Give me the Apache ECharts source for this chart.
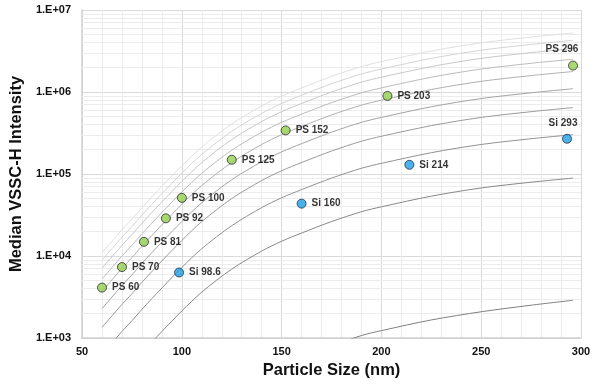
<!DOCTYPE html>
<html>
<head>
<meta charset="utf-8">
<script src="https://cdn.jsdelivr.net/npm/echarts@6/dist/echarts.min.js"></script>
<style>
html,body{margin:0;padding:0;background:#fff;}
#chart{width:600px;height:390px;}
</style>
</head>
<body>
<div id="chart"></div>
<script>
// ---- data ----
const xTicks = [50, 100, 150, 200, 250, 300];
const yTickLabels = ['1.E+03', '1.E+04', '1.E+05', '1.E+06', '1.E+07'];
const minorMultipliers = [2, 3, 4, 5, 6, 7, 8, 9];

const curveX = [60, 65, 70, 75, 80, 90, 100, 110, 125, 140, 150, 160, 175, 190, 200, 225, 250, 275, 296];
const curve1 = [10960, 15140, 20890, 28180, 38900, 70790, 125900, 213800, 407400, 676100, 891300, 1122000, 1549000, 2042000, 2344000, 3162000, 3981000, 4677000, 5248000];
const curve2 = [8913, 12300, 16980, 22910, 31620, 57540, 102300, 173800, 331100, 549500, 724400, 912000, 1259000, 1660000, 1905000, 2570000, 3236000, 3802000, 4266000];
const curve3 = [7079, 9772, 13490, 18200, 25120, 45710, 81280, 138000, 263000, 436500, 575400, 724400, 1000000, 1318000, 1514000, 2042000, 2570000, 3020000, 3388000];
const curve4 = [5248, 7244, 10000, 13490, 18620, 33880, 60260, 102300, 195000, 323600, 426600, 537000, 741300, 977200, 1122000, 1514000, 1905000, 2239000, 2512000];
const curve5 = [3715, 5129, 7079, 9550, 13180, 23990, 42660, 72440, 138000, 229100, 302000, 380200, 524800, 691800, 794300, 1072000, 1349000, 1585000, 1778000];
const curve6 = [2291, 3162, 4365, 5888, 8128, 14790, 26300, 44670, 85110, 141300, 186200, 234400, 323600, 426600, 489800, 660700, 831800, 977200, 1096000];
const curve7 = [1349, 1862, 2570, 3467, 4786, 8710, 15490, 26300, 50120, 83180, 109600, 138000, 190500, 251200, 288400, 389000, 489800, 575400, 645700];
const curve8 = [631, 871, 1202, 1622, 2239, 4074, 7244, 12300, 23440, 38900, 51290, 64570, 89130, 117500, 134900, 182000, 229100, 269200, 302000];
const curve9 = [186, 257, 355, 479, 661, 1202, 2138, 3631, 6918, 11480, 15140, 19050, 26300, 34670, 39810, 53700, 67610, 79430, 89130];
const curve10X = [160, 175, 190, 200, 225, 250, 275, 296];
const curve10 = [562, 794, 1072, 1230, 1660, 2089, 2512, 2884];

const psSize = [60, 70, 81, 92, 100, 125, 152, 203, 296];
const psMedian = [4120, 7330, 14900, 28800, 51200, 149000, 340000, 895000, 2100000];
const psLabels = ['PS 60', 'PS 70', 'PS 81', 'PS 92', 'PS 100', 'PS 125', 'PS 152', 'PS 203', 'PS 296'];

const siSize = [98.6, 160, 214, 293];
const siMedian = [6290, 43500, 129500, 269000];
const siLabels = ['Si 98.6', 'Si 160', 'Si 214', 'Si 293'];

// ---- build ----
const FONT = '"Liberation Sans", Arial, sans-serif';
const curves = [curve1, curve2, curve3, curve4, curve5, curve6, curve7, curve8, curve9];
const curveColors = ['#e0e0e0', '#d4d4d4', '#c8c8c8', '#bcbcbc', '#b0b0b0', '#a4a4a4', '#9a9a9a', '#909090', '#888888', '#808080'];

const series = [];

// minor horizontal log gridlines
const minorY = [];
for (let d = 0; d < yTickLabels.length - 1; d++) {
  const base = Math.pow(10, d + 3);
  minorMultipliers.forEach(m => minorY.push({ yAxis: m * base }));
}
series.push({
  type: 'line', data: [], z: 1, silent: true,
  markLine: {
    z: 1, silent: true, symbol: ['none', 'none'], label: { show: false },
    lineStyle: { color: '#ececec', width: 1, type: 'solid' },
    data: minorY, animation: false
  }
});

curves.forEach((c, i) => {
  series.push({
    type: 'line', z: 3, smooth: 0.3, showSymbol: false, symbol: 'none', silent: true,
    lineStyle: { color: curveColors[i], width: 1 },
    data: curveX.map((x, j) => [x, c[j]])
  });
});
series.push({
  type: 'line', z: 3, smooth: 0.3, showSymbol: false, symbol: 'none', silent: true,
  lineStyle: { color: curveColors[9], width: 1 },
  data: curve10X.map((x, j) => [x, curve10[j]])
});

const labelStyle = { show: true, position: 'right', distance: 5, fontFamily: FONT, fontWeight: 'bold', fontSize: 10, color: '#000' };

series.push({
  type: 'scatter', z: 5, symbol: 'circle', symbolSize: 9,
  itemStyle: { color: '#92D050', borderColor: '#2b2b2b', borderWidth: 1 },
  label: Object.assign({}, labelStyle, { formatter: p => psLabels[p.dataIndex] }),
  data: psSize.map((x, i) => {
    const o = { value: [x, psMedian[i]] };
    if (i === psSize.length - 1) o.label = { position: 'top', offset: [-11, -1] };
    return o;
  })
});
series.push({
  type: 'scatter', z: 5, symbol: 'circle', symbolSize: 9,
  itemStyle: { color: '#1E9FE3', borderColor: '#1f3550', borderWidth: 1 },
  label: Object.assign({}, labelStyle, { formatter: p => siLabels[p.dataIndex] }),
  data: siSize.map((x, i) => {
    const o = { value: [x, siMedian[i]] };
    if (i === siSize.length - 1) o.label = { position: 'top', offset: [-4, -1] };
    return o;
  })
});

const chart = echarts.init(document.getElementById('chart'), null, { renderer: 'canvas' });
chart.setOption({
  animation: false,
  backgroundColor: '#ffffff',
  grid: { left: 80, right: 19, top: 10, bottom: 52 },
  xAxis: {
    type: 'value', min: xTicks[0], max: xTicks[xTicks.length - 1], interval: 50,
    name: 'Particle Size (nm)', nameLocation: 'middle', nameGap: 24,
    nameTextStyle: { fontFamily: FONT, fontWeight: 'bold', fontSize: 16.5, color: '#111' },
    axisLine: { show: true, onZero: false, lineStyle: { color: '#d0d0d0', width: 1.5 } },
    axisTick: { show: false },
    axisLabel: { fontFamily: FONT, fontWeight: 'bold', fontSize: 11, color: '#111', margin: 8 },
    splitLine: { show: true, lineStyle: { color: '#dadada', width: 1 } },
    minorTick: { show: false, splitNumber: 5 },
    minorSplitLine: { show: true, lineStyle: { color: '#ececec', width: 1 } }
  },
  yAxis: {
    type: 'log', logBase: 10, min: 1000, max: 10000000,
    name: 'Median VSSC-H Intensity', nameLocation: 'middle', nameGap: 49, nameRotate: 90,
    nameTextStyle: { fontFamily: FONT, fontWeight: 'bold', fontSize: 16.5, color: '#111' },
    axisLine: { show: true, lineStyle: { color: '#d0d0d0', width: 1.5 } },
    axisTick: { show: false },
    axisLabel: {
      fontFamily: FONT, fontWeight: 'bold', fontSize: 11, color: '#111', margin: 11,
      formatter: v => yTickLabels[Math.round(Math.log10(v)) - 3]
    },
    splitLine: { show: true, lineStyle: { color: '#dadada', width: 1 } }
  },
  series: series
});
</script>
</body>
</html>
